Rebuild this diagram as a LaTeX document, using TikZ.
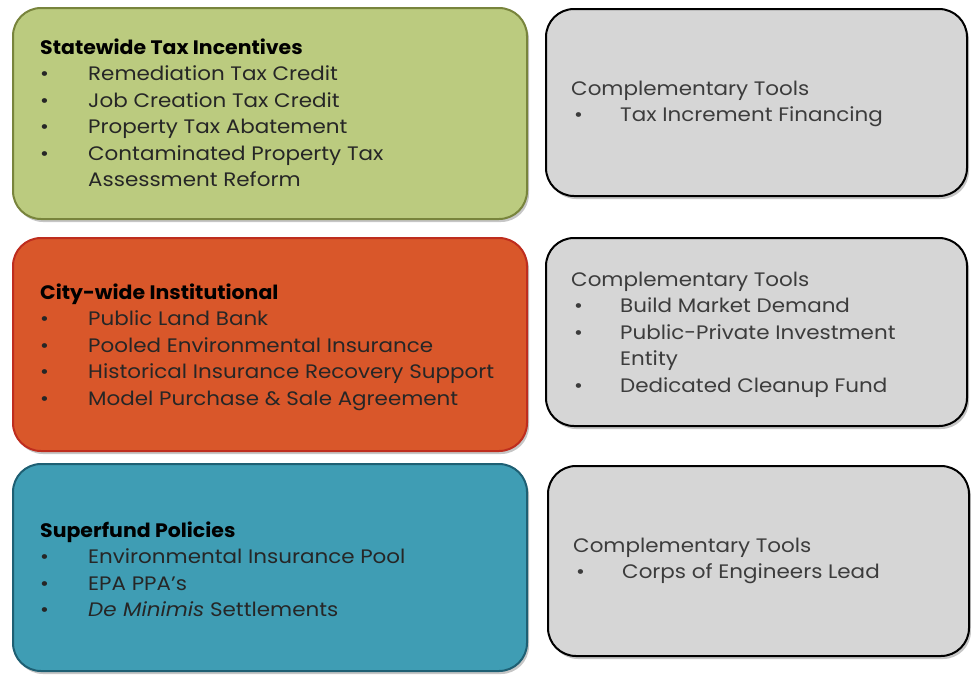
\documentclass[tikz,border=0pt]{standalone}
\usepackage{fontspec}
\setmainfont{Poppins}[FakeStretch=1.1, BoldFeatures={FakeStretch=1.05}]
\usetikzlibrary{shadows}

\definecolor{stategreen}{RGB}{187,203,127}
\definecolor{stateedge}{RGB}{120,132,60}
\definecolor{cityorange}{RGB}{217,87,42}
\definecolor{cityedge}{RGB}{190,45,30}
\definecolor{fundteal}{RGB}{63,157,180}
\definecolor{fundedge}{RGB}{30,95,115}
\definecolor{toolgray}{RGB}{214,214,214}
\definecolor{itemtext}{RGB}{38,38,38}
\definecolor{tooltext}{RGB}{60,60,60}

\newcommand{\itemdot}{\makebox[48pt][l]{\textbullet}}
\newcommand{\tooldot}{\makebox[49pt][l]{\hspace{3pt}\textbullet}}

\begin{document}
\begin{tikzpicture}[x=1pt, y=-1pt,
    panel/.style={rectangle, rounded corners=28pt, line width=2pt, anchor=north west, inner sep=0pt,
      drop shadow={opacity=0.45, shadow xshift=2pt, shadow yshift=-3pt}},
    policy/.style={panel, minimum width=514pt},
    toolbox/.style={panel, fill=toolgray, draw=black, minimum width=421pt},
    listtext/.style={anchor=north west, align=left, inner sep=0pt, text=itemtext,
      font=\fontsize{19.5}{26.5}\selectfont},
    tooltext/.style={listtext, text=tooltext}]
  \useasboundingbox (0,0) rectangle (971,675);

  % left column
  \node (STI) [policy, fill=stategreen, draw=stateedge, minimum height=211pt] at (12,7) {};
  \node (CWI) [policy, fill=cityorange, draw=cityedge, minimum height=213pt] at (12,237) {};
  \node (SFP) [policy, fill=fundteal, draw=fundedge, minimum height=207pt] at (12,463) {};

  % right column
  \node (CT1) [toolbox, minimum height=187pt] at (545,8) {};
  \node (CT2) [toolbox, minimum height=188pt] at (545,237) {};
  \node (CT3) [toolbox, minimum height=190pt] at (547,465) {};

  % texts
  \node (STItext) [listtext] at (40,38.5) {\textcolor{black}{\textbf{Statewide Tax Incentives}}\\
    \itemdot Remediation Tax Credit\\
    \itemdot Job Creation Tax Credit\\
    \itemdot Property Tax Abatement\\
    \itemdot Contaminated Property Tax\\
    \hspace*{48pt}Assessment Reform};
  \node (CWItext) [listtext] at (40,283.5) {\textcolor{black}{\textbf{City-wide Institutional}}\\
    \itemdot Public Land Bank\\
    \itemdot Pooled Environmental Insurance\\
    \itemdot Historical Insurance Recovery Support\\
    \itemdot Model Purchase \& Sale Agreement};
  \node (SFPtext) [listtext] at (40,521.5) {\textcolor{black}{\textbf{Superfund Policies}}\\
    \itemdot Environmental Insurance Pool\\
    \itemdot EPA PPA's\\
    \itemdot \textit{De Minimis} Settlements};

  \node (CT1text) [tooltext] at (571,80.5) {Complementary Tools\\
    \tooldot Tax Increment Financing};
  \node (CT2text) [tooltext] at (571,271.5) {Complementary Tools\\
    \tooldot Build Market Demand\\
    \tooldot Public-Private Investment\\
    \hspace*{49pt}Entity\\
    \tooldot Dedicated Cleanup Fund};
  \node (CT3text) [tooltext] at (573,537.5) {Complementary Tools\\
    \tooldot Corps of Engineers Lead};
\end{tikzpicture}
\end{document}
